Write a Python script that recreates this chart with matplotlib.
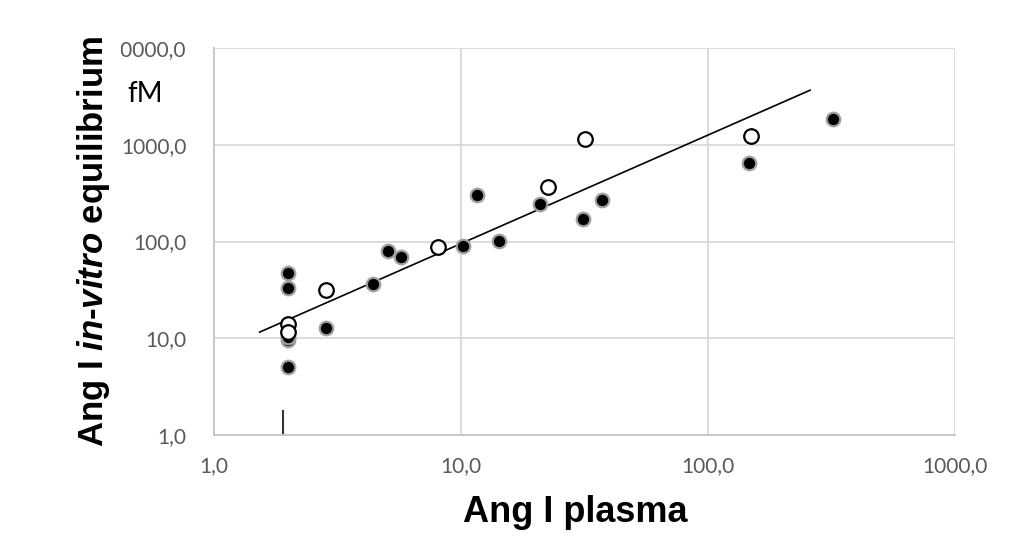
import numpy as np
import matplotlib
matplotlib.use("Agg")
import matplotlib.pyplot as plt
from matplotlib.ticker import FixedLocator, FixedFormatter
from matplotlib.transforms import Bbox, TransformedBbox

# ---------------------- Data ----------------------

# filled markers (black)
filled_x = [2.0, 2.0, 2.0, 2.0, 2.0, 2.84, 4.39, 5.08, 5.71, 10.2, 11.6, 14.2,
            20.9, 31.2, 37.2, 146.0, 321.0]
filled_y = [47.6, 33.3, 9.6, 10.2, 5.06, 12.8, 36.0, 79.4, 68.9, 90.3, 300.0, 102.0,
            242.0, 169.0, 269.0, 648.0, 1867.0]

# open markers (white)
open_x = [2.0, 2.0, 2.84, 8.09, 22.4, 31.8, 149.0]
open_y = [13.9, 11.6, 31.3, 87.4, 363.0, 1153.0, 1238.0]

# power trendline y = a * x^b
trend_a = 7.18
trend_b = 1.122
trend_x_range = [1.53, 259.0]

# short vertical marker near x = 2
vline_x = 1.9
vline_y = [1.0, 1.75]

tick_values = [1, 10, 100, 1000, 10000]
tick_labels = ["1,0", "10,0", "100,0", "1000,0", "10000,0"]

# ---------------------- Plot ----------------------

plt.rcParams["mathtext.fontset"] = "custom"
plt.rcParams["mathtext.bfit"] = "Liberation Sans:italic:bold"
plt.rcParams["mathtext.rm"] = "Liberation Sans:bold"

tick_font = dict(family="Lato", size=15)

fig = plt.figure(figsize=(10.35, 5.53), dpi=100)
ax = fig.add_axes([214 / 1035, 1 - 435 / 553, (955 - 214) / 1035, (435 - 48) / 553])

ax.set_xscale("log")
ax.set_yscale("log")
ax.set_xlim(1, 1000)
ax.set_ylim(1, 10000)

grid_col = "#d9d9d9"
ax.grid(True, which="major", color=grid_col, linewidth=1.3)
ax.set_axisbelow(True)
for side in ("top", "right"):
    ax.spines[side].set_visible(False)
for side in ("left", "bottom"):
    ax.spines[side].set_color("#c8c8c8")
    ax.spines[side].set_linewidth(1.4)

ax.xaxis.set_major_locator(FixedLocator(tick_values[:4]))
ax.xaxis.set_major_formatter(FixedFormatter(tick_labels[:4]))
ax.yaxis.set_major_locator(FixedLocator(tick_values))
ax.yaxis.set_major_formatter(FixedFormatter(tick_labels))
ax.xaxis.set_minor_locator(FixedLocator([]))
ax.yaxis.set_minor_locator(FixedLocator([]))
ax.tick_params(length=0, labelsize=tick_font["size"], labelcolor="#595959")
ax.tick_params(axis="x", pad=15)
ax.tick_params(axis="y", pad=20)
for lbl in ax.get_xticklabels() + ax.get_yticklabels():
    lbl.set_family(tick_font["family"])

# trendline
tx = np.array(trend_x_range)
tx = np.geomspace(tx[0], tx[1], 50)
ax.plot(tx, trend_a * tx ** trend_b, color="black", linewidth=1.2, zorder=2)

# short vertical line
ax.plot([vline_x, vline_x], vline_y, color="#333333", linewidth=1.5, zorder=2,
        clip_on=False)

ax.scatter(filled_x, filled_y, s=95, facecolor="black", edgecolor="#a0a0a0",
           linewidth=1.6, zorder=3)
ax.scatter(open_x, open_y, s=110, facecolor="white", edgecolor="black",
           linewidth=1.6, zorder=4)

fig.text(575 / 1035, 1 - 513 / 553, "Ang I plasma", ha="center", va="center",
         fontsize=26, fontweight="bold", family="Liberation Sans")

fig.text(94 / 1035, 1 - 241 / 553,
         r"Ang I $\bfit{in}$-$\bfit{vitro}$ equilibrium",
         rotation=90, ha="center", va="center", fontsize=25,
         fontweight="bold", family="Liberation Sans")

fig.text(127 / 1035, 1 - 94 / 553, "fM", ha="left", va="center",
         fontsize=20, color="black", family="Lato")

# the leading "1" of the top label is cut off in the original
fig.canvas.draw()
renderer = fig.canvas.get_renderer()
top_label = ax.yaxis.get_major_ticks()[-1].label1
x0 = top_label.get_window_extent(renderer).x0
probe = fig.text(0, 0, "1", family=tick_font["family"], size=tick_font["size"])
w1 = probe.get_window_extent(renderer).width
probe.remove()
clip = TransformedBbox(Bbox([[(x0 + w1) / fig.bbox.width, 0], [1, 1]]),
                       fig.transFigure)
top_label.set_clip_box(clip)
top_label.set_clip_on(True)

fig.savefig("out.png", dpi=100)
